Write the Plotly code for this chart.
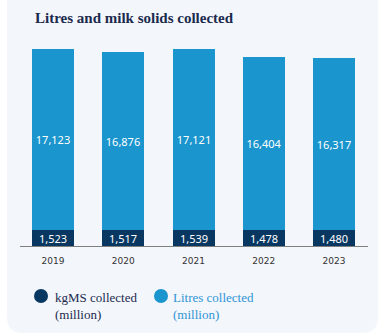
import plotly.graph_objects as go

years = ["2019", "2020", "2021", "2022", "2023"]
kgms = [1523, 1517, 1539, 1478, 1480]
litres = [17123, 16876, 17121, 16404, 16317]

W, H = 383, 335
ML, MR, MT, MB = 20, 15, 35, 89
PW, PH = W - ML - MR, H - MT - MB

def px(x):
    return (x - ML) / PW

def py(y):
    return (H - MB - y) / PH

DARK = "#083862"
LIGHT = "#1a95cd"
PANEL = "#f3f6fb"
xs = list(range(len(years)))

fig = go.Figure()
fig.add_trace(go.Bar(
    x=xs, y=kgms, marker=dict(color=DARK, line=dict(width=0)), width=0.598,
    text=[f"{v:,}" for v in kgms], textposition="inside", insidetextanchor="middle",
    constraintext="none", textangle=0,
    textfont=dict(family="Noto Sans", size=11, color="white"),
    hoverinfo="skip", showlegend=False,
))
fig.add_trace(go.Bar(
    x=xs, y=litres, marker=dict(color=LIGHT, line=dict(width=0)), width=0.598,
    text=[f"{v:,}" for v in litres], textposition="inside", insidetextanchor="middle",
    constraintext="none", textangle=0,
    textfont=dict(family="Noto Sans", size=11, color="white"),
    hoverinfo="skip", showlegend=False,
))

# panel background with rounded bottom corners
x0, x1, yt, yb, r = px(7), px(378), py(-20), py(333), 16
rx, ry = r / PW, r / PH
path = (f"M {x0},{yt} L {x1},{yt} L {x1},{yb+ry} Q {x1},{yb} {x1-rx},{yb} "
        f"L {x0+rx},{yb} Q {x0},{yb} {x0},{yb+ry} Z")
shapes = [dict(type="path", path=path, xref="paper", yref="paper",
               fillcolor=PANEL, line=dict(width=0), layer="below")]

# legend circles
for cx, col in [(41, DARK), (161, LIGHT)]:
    shapes.append(dict(type="circle", xref="paper", yref="paper",
                       x0=px(cx - 7), x1=px(cx + 7), y0=py(296 + 7), y1=py(296 - 7),
                       fillcolor=col, line=dict(width=0)))

annotations = [
    dict(text="<b>Litres and milk solids collected</b>", x=px(33), y=py(18),
         xref="paper", yref="paper", xanchor="left", yanchor="middle", showarrow=False,
         font=dict(family="Liberation Serif", size=15, color="#1b2a4e")),
    dict(text="kgMS collected<br>(million)", x=px(53), y=py(288),
         xref="paper", yref="paper", xanchor="left", yanchor="top", showarrow=False,
         align="left", font=dict(family="Liberation Serif", size=13, color="#1b2a4e")),
    dict(text="Litres collected<br>(million)", x=px(171), y=py(288),
         xref="paper", yref="paper", xanchor="left", yanchor="top", showarrow=False,
         align="left", font=dict(family="Liberation Serif", size=13, color="#2f95d5")),
]

fig.update_layout(
    width=W, height=H, margin=dict(l=ML, r=MR, t=MT, b=MB),
    barmode="stack", bargap=0,
    paper_bgcolor="white", plot_bgcolor="rgba(0,0,0,0)",
    shapes=shapes, annotations=annotations,
    xaxis=dict(range=[-0.47, 4.484], tickmode="array", tickvals=xs, ticktext=years,
               showgrid=False, zeroline=False, showline=True, linecolor="#7f7f7f",
               linewidth=1, ticks="", ticklabelstandoff=6,
               tickfont=dict(family="DejaVu Sans", size=9, color="#333333"),
               fixedrange=True),
    yaxis=dict(range=[0, 20000], visible=False, fixedrange=True),
)

fig.write_html("out.html")
